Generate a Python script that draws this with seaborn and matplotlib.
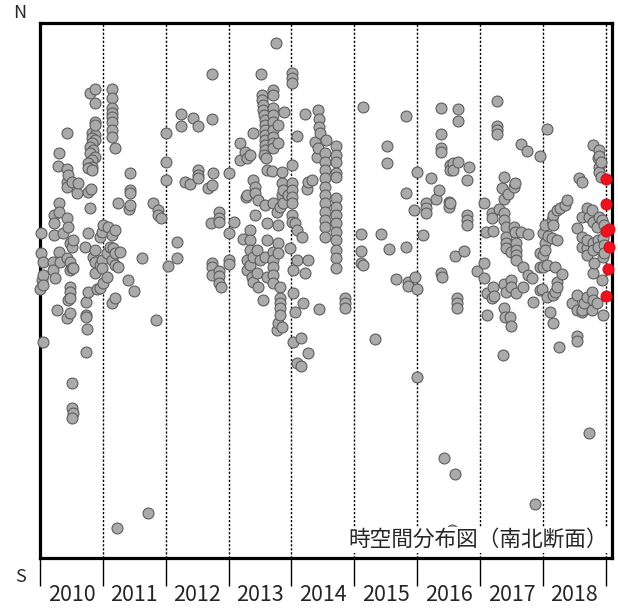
import numpy as np
import pandas as pd
import matplotlib
matplotlib.use("Agg")
import matplotlib.pyplot as plt
import seaborn as sns

# ==================================================
# DATA  (time in decimal years, position in km from the south end)
# ==================================================

t_2010 = [2010.00, 2010.02, 2010.02, 2010.03, 2010.05, 2010.05, 2010.05, 2010.05,
          2010.21, 2010.21, 2010.22, 2010.22, 2010.22, 2010.24, 2010.27, 2010.29,
          2010.30, 2010.30, 2010.30, 2010.30, 2010.32, 2010.37, 2010.43, 2010.43,
          2010.43, 2010.43, 2010.43, 2010.43, 2010.43, 2010.45, 2010.45, 2010.45,
          2010.48, 2010.48, 2010.48, 2010.48, 2010.48, 2010.48, 2010.48, 2010.51,
          2010.51, 2010.51, 2010.51, 2010.51, 2010.52, 2010.51, 2010.52, 2010.52,
          2010.59, 2010.60, 2010.72, 2010.73, 2010.73, 2010.73, 2010.73, 2010.75,
          2010.76, 2010.76, 2010.76, 2010.79, 2010.79, 2010.81,
          2010.83, 2010.87, 2010.83, 2010.87, 2010.83, 2010.79, 2010.84, 2010.79,
          2010.87, 2010.83, 2010.76, 2010.83, 2010.76, 2010.83,
          2010.84, 2010.87, 2010.87, 2010.87, 2010.87, 2010.87, 2010.87, 2010.87,
          2010.91, 2010.95, 2010.95, 2010.95, 2010.99, 2010.99, 2010.99, 2011.00,
          2011.00]
y_2010 = [269, 325, 305, 278, 296, 283, 273, 216,
          296, 288, 343, 335, 323, 280, 248, 392,
          405, 355, 346, 306, 296, 325, 425, 389,
          376, 371, 340, 300, 240, 383, 331, 258,
          315, 296, 288, 271, 266, 260, 245, 376,
          311, 290, 175, 150, 145, 140, 318, 290,
          365, 375, 311, 256, 243, 241, 206, 229,
          366, 325, 266, 465, 350, 369,
          425, 423, 420, 418, 415, 411, 408, 405,
          401, 398, 395, 391, 390, 388,
          301, 469, 455, 436, 433, 308, 296, 285,
          269, 321, 293, 270, 326, 298, 290, 333,
          275]

t_2011 = [2011.14, 2011.14, 2011.14, 2011.14, 2011.14, 2011.14, 2011.14, 2011.14,
          2011.19, 2011.07, 2011.07, 2011.08, 2011.11, 2011.14, 2011.14, 2011.14,
          2011.16, 2011.19, 2011.19, 2011.19, 2011.19, 2011.24, 2011.24, 2011.27,
          2011.22, 2011.40, 2011.41, 2011.43, 2011.43, 2011.43, 2011.43, 2011.49,
          2011.62, 2011.72, 2011.80, 2011.88, 2011.88, 2011.92, 2011.84, 2012.00,
          2012.00, 2012.00]
y_2011 = [469, 460, 450, 445, 441, 436, 428, 421,
          410, 305, 281, 331, 311, 323, 298, 255,
          310, 328, 305, 293, 260, 355, 291, 306,
          30, 278, 349, 385, 368, 365, 353, 267,
          300, 45, 355, 348, 343, 340, 238, 425,
          396, 378]

t_2012 = [2012.04, 2012.18, 2012.18, 2012.24, 2012.24, 2012.31, 2012.38, 2012.43,
          2012.51, 2012.51, 2012.51, 2012.51, 2012.67, 2012.72, 2012.73, 2012.73,
          2012.73, 2012.73, 2012.73, 2012.73, 2012.75, 2012.85, 2012.85, 2012.85,
          2012.85, 2012.85, 2012.85, 2012.88, 2013.00, 2013.00, 2013.00, 2013.00]
y_2012 = [292, 316, 300, 444, 432, 376, 374, 440,
          432, 388, 383, 380, 370, 335, 484, 439,
          373, 295, 291, 283, 385, 346, 340, 336,
          287, 282, 275, 271, 385, 325, 298, 294]

t_2013 = [2013.08, 2013.18, 2013.18, 2013.23, 2013.26, 2013.27, 2013.29, 2013.29,
          2013.29, 2013.29, 2013.34, 2013.34, 2013.34, 2013.34, 2013.34, 2013.37,
          2013.39, 2013.39, 2013.39, 2013.39, 2013.42, 2013.42, 2013.42, 2013.45,
          2013.45, 2013.47, 2013.47, 2013.50,
          2013.51, 2013.53, 2013.53, 2013.55, 2013.55, 2013.56, 2013.58, 2013.58,
          2013.58, 2013.58, 2013.58, 2013.58, 2013.58, 2013.56, 2013.59,
          2013.55, 2013.58, 2013.58, 2013.61, 2013.61, 2013.61, 2013.61,
          2013.70, 2013.70, 2013.70, 2013.70, 2013.70, 2013.70, 2013.70, 2013.70,
          2013.70, 2013.78, 2013.78,
          2013.69, 2013.70, 2013.70, 2013.70, 2013.70, 2013.70, 2013.70, 2013.75,
          2013.77, 2013.77, 2013.78, 2013.78, 2013.78, 2013.78, 2013.82, 2013.82,
          2013.82, 2013.82, 2013.82, 2013.82, 2013.85, 2013.85, 2013.85, 2013.85,
          2013.86, 2013.86, 2013.88, 2013.94, 2013.97]
y_2013 = [336, 415, 398, 319, 406, 361, 400, 363,
          298, 288, 403, 328, 318, 308, 293, 281,
          425, 378, 301, 276, 371, 365, 343, 308,
          285, 358, 271, 298,
          484, 463, 458, 453, 448, 443, 438, 433,
          428, 423, 418, 413, 408, 403, 400,
          258, 353, 301, 388, 335, 318, 281,
          468, 463, 450, 443, 436, 428, 421, 415,
          410, 433, 415,
          387, 355, 306, 298, 291, 283, 275, 515,
          346, 228, 333, 315, 305, 235, 351, 271,
          260, 255, 250, 243, 386, 375, 363, 231,
          368, 355, 446, 363, 310]

t_2014 = [2014.01, 2014.01, 2014.01, 2014.01, 2014.01, 2014.01, 2014.01, 2014.01,
          2014.01, 2014.01, 2014.02, 2014.02, 2014.02, 2014.05, 2014.05, 2014.09,
          2014.09, 2014.09, 2014.09, 2014.15, 2014.15, 2014.17, 2014.18, 2014.21,
          2014.21, 2014.24, 2014.26, 2014.26, 2014.26, 2014.32, 2014.37, 2014.40,
          2014.42, 2014.42, 2014.44, 2014.44, 2014.44, 2014.45, 2014.55,
          2014.53, 2014.53, 2014.53, 2014.53, 2014.53, 2014.53, 2014.53, 2014.53,
          2014.53, 2014.53, 2014.53,
          2014.71, 2014.71, 2014.71, 2014.71, 2014.71, 2014.71, 2014.71, 2014.71,
          2014.71, 2014.71, 2014.71, 2014.71, 2014.71, 2014.71,
          2014.86, 2014.86, 2014.86]
y_2014 = [485, 480, 475, 393, 375, 368, 361, 355,
          343, 336, 288, 265, 216, 335, 246, 422,
          328, 298, 195, 220, 192, 321, 255, 444,
          285, 369, 376, 298, 205, 378, 416, 401,
          448, 410, 439, 431, 249, 425, 418,
          405, 396, 388, 380, 371, 363, 355, 346,
          338, 331, 321,
          412, 403, 396, 385, 381, 360, 351, 343,
          335, 326, 318, 308, 300, 290,
          260, 255, 250]

t_2015 = [2015.10, 2015.10, 2015.10, 2015.14, 2015.14, 2015.33, 2015.42, 2015.52,
          2015.52, 2015.55, 2015.66, 2015.82, 2015.82, 2015.83, 2015.85, 2015.85,
          2015.95, 2015.96, 2015.99, 2015.99, 2015.99]
y_2015 = [324, 307, 295, 451, 293, 219, 324, 412,
          395, 309, 279, 365, 311, 442, 276, 272,
          348, 281, 386, 269, 181]

t_2016 = [2016.09, 2016.14, 2016.14, 2016.14, 2016.22, 2016.30, 2016.34, 2016.38,
          2016.38, 2016.38, 2016.38, 2016.38, 2016.39, 2016.42, 2016.50, 2016.50,
          2016.52, 2016.52, 2016.52, 2016.55, 2016.57, 2016.57, 2016.60, 2016.61,
          2016.63, 2016.63, 2016.63, 2016.65, 2016.65, 2016.65, 2016.74, 2016.80,
          2016.80, 2016.80, 2016.80, 2016.82]
y_2016 = [323, 355, 350, 345, 380, 359, 368, 450,
          424, 410, 406, 285, 281, 100, 356, 351,
          393, 388, 355, 28, 395, 388, 302, 84,
          260, 255, 250, 449, 437, 396, 307, 378,
          343, 338, 333, 391]

t_2017 = [2016.96, 2017.06, 2017.07, 2017.07, 2017.09, 2017.11, 2017.11, 2017.19,
          2017.19, 2017.19, 2017.20, 2017.20, 2017.23, 2017.27, 2017.27, 2017.27,
          2017.27, 2017.31, 2017.35, 2017.36, 2017.38, 2017.38, 2017.38, 2017.38,
          2017.38, 2017.38, 2017.39, 2017.42, 2017.42, 2017.42, 2017.42, 2017.42,
          2017.44, 2017.47, 2017.50, 2017.50, 2017.50, 2017.50, 2017.54, 2017.54,
          2017.55, 2017.55, 2017.58, 2017.58, 2017.58, 2017.57, 2017.58, 2017.65,
          2017.66, 2017.69, 2017.69, 2017.74, 2017.76, 2017.76, 2017.82, 2017.85,
          2017.87, 2017.95, 2017.95, 2017.95, 2017.95, 2017.98, 2018.00, 2018.00,
          2018.00]
y_2017 = [287, 355, 295, 280, 326, 265, 243, 345,
          340, 260, 327, 271, 262, 457, 432, 428,
          424, 349, 370, 203, 381, 359, 345, 338,
          274, 250, 241, 331, 321, 315, 310, 266,
          364, 241, 306, 278, 271, 232, 371, 331,
          375, 326, 315, 308, 303, 298, 265, 414,
          326, 291, 271, 407, 324, 283, 280, 256,
          54, 402, 305, 291, 268, 269, 325, 303,
          291]

t_2018 = [2018.03, 2018.03, 2018.03, 2018.06, 2018.06, 2018.06, 2018.08, 2018.11,
          2018.14, 2018.14, 2018.16, 2018.16, 2018.16, 2018.16, 2018.19, 2018.19,
          2018.22, 2018.22, 2018.22, 2018.22, 2018.25, 2018.27, 2018.31, 2018.35,
          2018.39, 2018.47, 2018.54, 2018.54, 2018.54, 2018.54, 2018.55, 2018.57,
          2018.62, 2018.62, 2018.62, 2018.63, 2018.63, 2018.63, 2018.66, 2018.70,
          2018.71, 2018.71, 2018.71, 2018.71, 2018.73, 2018.74, 2018.78, 2018.78,
          2018.78, 2018.79, 2018.79, 2018.79, 2018.79, 2018.79, 2018.79, 2018.82,
          2018.86, 2018.86, 2018.87, 2018.87, 2018.87, 2018.90, 2018.90, 2018.90,
          2018.90, 2018.90, 2018.92, 2018.92, 2018.94, 2018.94, 2018.95, 2018.95,
          2018.95, 2018.98, 2018.98, 2018.98]
y_2018 = [333, 315, 308, 429, 293, 261, 322, 246,
          338, 320, 343, 333, 263, 235, 291, 266,
          348, 318, 276, 271, 211, 350, 284, 353,
          358, 255, 263, 248, 222, 217, 330, 380,
          341, 311, 246, 376, 321, 248, 255, 310,
          350, 318, 303, 261, 125, 341, 348, 266,
          248, 413, 336, 315, 308, 285, 258, 295,
          331, 255, 400, 318, 311, 408, 402, 391,
          386, 341, 396, 381, 338, 278, 320, 301,
          243, 333, 313, 305]

# latest events (red)
t_recent = [2019.01, 2019.01, 2019.06, 2019.01, 2019.06, 2019.03, 2019.01]
y_recent = [379, 354, 329, 327, 311, 289, 262]

years = [2010, 2011, 2012, 2013, 2014, 2015, 2016, 2017, 2018]

df = pd.DataFrame({
    "time": t_2010 + t_2011 + t_2012 + t_2013 + t_2014 + t_2015 + t_2016 + t_2017 + t_2018,
    "pos": y_2010 + y_2011 + y_2012 + y_2013 + y_2014 + y_2015 + y_2016 + y_2017 + y_2018,
})
recent = pd.DataFrame({"time": t_recent, "pos": y_recent})

# ==================================================
# PLOT
# ==================================================

sns.set_style("white")
plt.rcParams["font.family"] = ["Noto Sans CJK JP", "DejaVu Sans"]

fig = plt.figure(figsize=(6.18, 6.10), dpi=100)
ax = fig.add_axes([40 / 618, 1 - 558 / 610, 572 / 618, 535 / 610])

for yr in years[1:] + [2019]:
    ax.axvline(yr, color="black", linestyle=(0, (1.6, 1.3)), linewidth=1.0, zorder=1)

sns.scatterplot(
    data=df, x="time", y="pos",
    color="#aaaaaa", edgecolor="#5e5e5e", linewidth=0.8, s=62,
    ax=ax, zorder=3, clip_on=False
)
sns.scatterplot(
    data=recent, x="time", y="pos",
    color="#f0101e", edgecolor="#d0101a", linewidth=0.8, s=62,
    ax=ax, zorder=4, clip_on=False
)

ax.set_xlim(2010, 2019.1)
ax.set_ylim(0, 535)
ax.set_xlabel("")
ax.set_ylabel("")
ax.set_yticks([])

ax.set_xticks(years + [2019])
ax.set_xticklabels([])
ax.set_xticks([y + 0.5 for y in years], minor=True)
ax.set_xticklabels([str(y) for y in years], minor=True, fontsize=15.5)
ax.tick_params(axis="x", which="major", bottom=True, length=20, width=1.0,
               direction="out", color="black")
ax.tick_params(axis="x", which="minor", bottom=True, length=0, pad=19)

for side in ["left", "right", "top", "bottom"]:
    ax.spines[side].set_visible(True)
    ax.spines[side].set_color("black")
    ax.spines[side].set_linewidth(2.3)

ax.text(
    0.993, 0.034, "時空間分布図（南北断面）",
    transform=ax.transAxes, ha="right", va="center", fontsize=15.6,
    bbox=dict(facecolor="white", edgecolor="none", pad=1.5), zorder=6
)

fig.text(20 / 618, 1 - 13 / 610, "N", ha="center", va="center", fontsize=13)
fig.text(20 / 618, 1 - 577 / 610, "S", ha="center", va="center", fontsize=13)

fig.savefig("out.png", dpi=100)
